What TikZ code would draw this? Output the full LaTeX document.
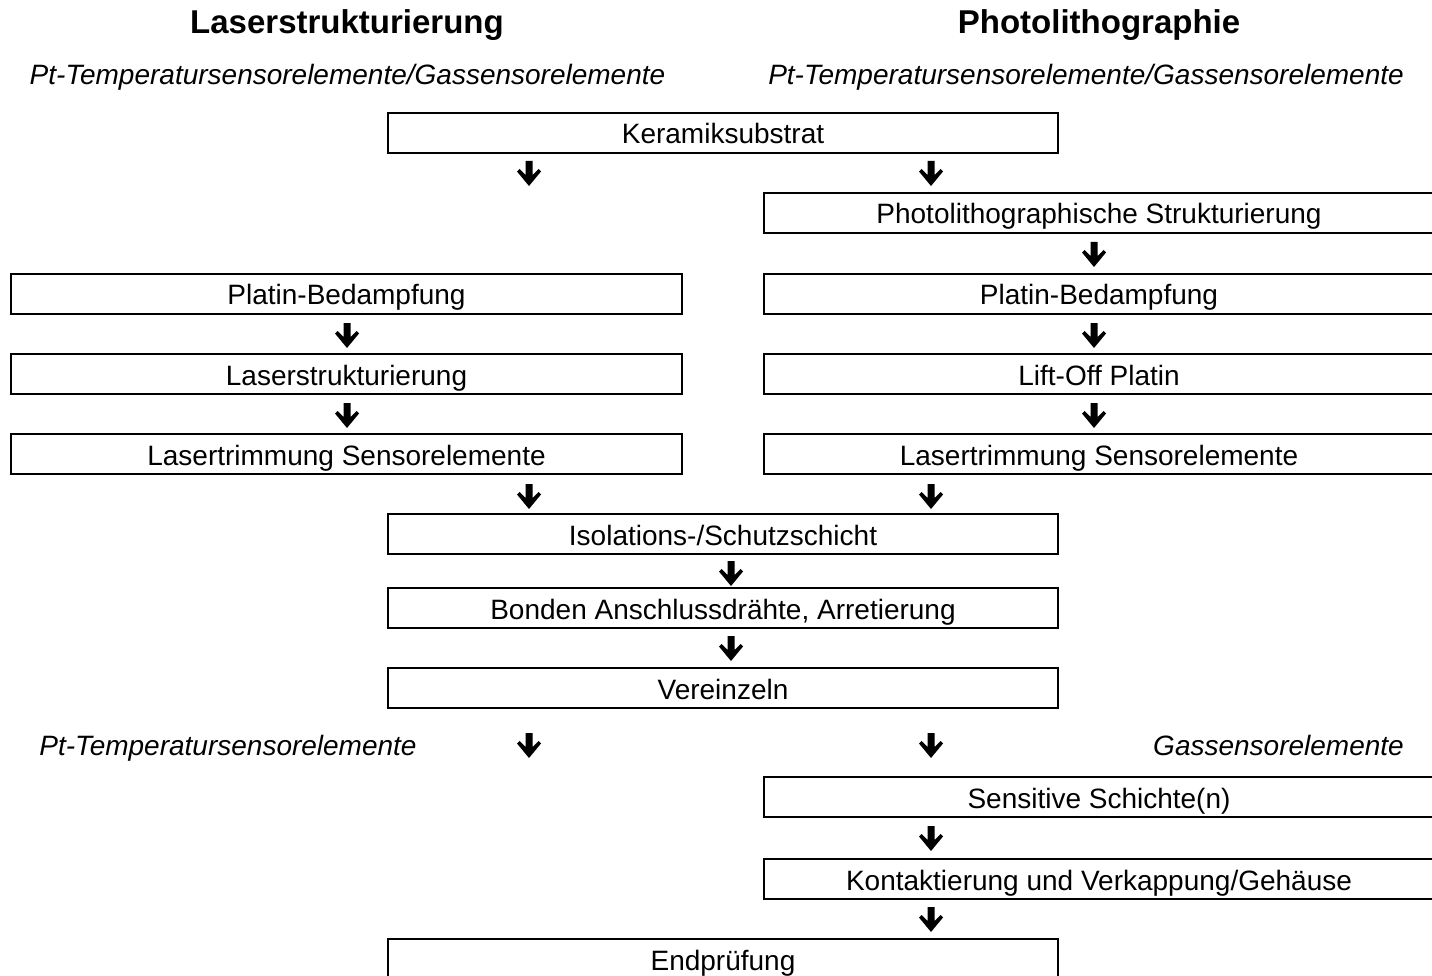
\documentclass[tikz,border=0pt]{standalone}
\usepackage{fontspec}
\setmainfont{Liberation Sans}
\begin{document}
\begin{tikzpicture}[x=1pt,y=-1pt,
  box/.style={draw=black,line width=2pt,inner sep=0pt,minimum height=40pt,
    text height=28pt,text depth=6pt,
    font=\fontsize{28}{32}\selectfont},
  wbox/.style={box,minimum width=670pt},
  lbl/.style={inner sep=0pt,anchor=base,font=\fontsize{28}{32}\selectfont\itshape},
  ttl/.style={inner sep=0pt,anchor=base,font=\fontsize{33}{38}\selectfont\bfseries},
  darrow/.pic={\fill[black] (-3.5,0) -- (3.5,0) -- (3.5,14) -- (9.5,8) -- (12,10.5)
     -- (0,25) -- (-12,10.5) -- (-9.5,8) -- (-3.5,14) -- cycle;}]
\useasboundingbox (0,0) rectangle (1432,976);
\clip (0,0) rectangle (1432,976);
\fill[white] (0,0) rectangle (1432,976);
% titles
\node[ttl] (t1) at (347,34) {Laserstrukturierung};
\node[ttl] (t2) at (1099,34) {Photolithographie};
\node[lbl] (s1) at (347.5,85) {Pt-Temperatursensorelemente/Gassensorelemente};
\node[lbl] (s2) at (1086,85) {Pt-Temperatursensorelemente/Gassensorelemente};
% boxes
\node[wbox] (ker) at (723,133) {Keramiksubstrat};
\node[wbox] (pho) at (1099,213) {Photolithographische Strukturierung};
\node[box,minimum width=671pt] (plL) at (346.5,294) {Platin-Bedampfung};
\node[wbox] (plR) at (1099,294) {Platin-Bedampfung};
\node[box,minimum width=671pt] (lsL) at (346.5,374) {Laserstrukturierung};
\node[wbox] (loR) at (1099,374) {Lift-Off Platin};
\node[box,minimum width=671pt] (ltL) at (346.5,454) {Lasertrimmung Sensorelemente};
\node[wbox] (ltR) at (1099,454) {Lasertrimmung Sensorelemente};
\node[wbox] (iso) at (723,534) {Isolations-/Schutzschicht};
\node[wbox] (bon) at (723,608) {Bonden Anschlussdrähte, Arretierung};
\node[wbox] (ver) at (723,688) {Vereinzeln};
\node[lbl] (pt) at (228,755) {Pt-Temperatursensorelemente};
\node[lbl,anchor=base east] (gas) at (1404,755) {Gassensorelemente};
\node[wbox] (sen) at (1099,797) {Sensitive Schichte(n)};
\node[wbox] (kon) at (1099,879) {Kontaktierung und Verkappung/Gehäuse};
\node[wbox] (end) at (723,959) {Endprüfung};
% arrows
\coordinate (a1) at (529,161); \coordinate (a2) at (931,161);
\coordinate (a3) at (1094,242);
\coordinate (a4) at (347,323); \coordinate (a5) at (1094,323);
\coordinate (a6) at (347,403); \coordinate (a7) at (1094,403);
\coordinate (a8) at (529,484); \coordinate (a9) at (931,484);
\coordinate (a10) at (731,561);
\coordinate (a11) at (731,636);
\coordinate (a12) at (529,733); \coordinate (a13) at (931,733);
\coordinate (a14) at (931,826);
\coordinate (a15) at (931,907);
\foreach \a in {a1,a2,a3,a4,a5,a6,a7,a8,a9,a10,a11,a12,a13,a14,a15}
  \pic at (\a) {darrow};
\end{tikzpicture}
\end{document}
